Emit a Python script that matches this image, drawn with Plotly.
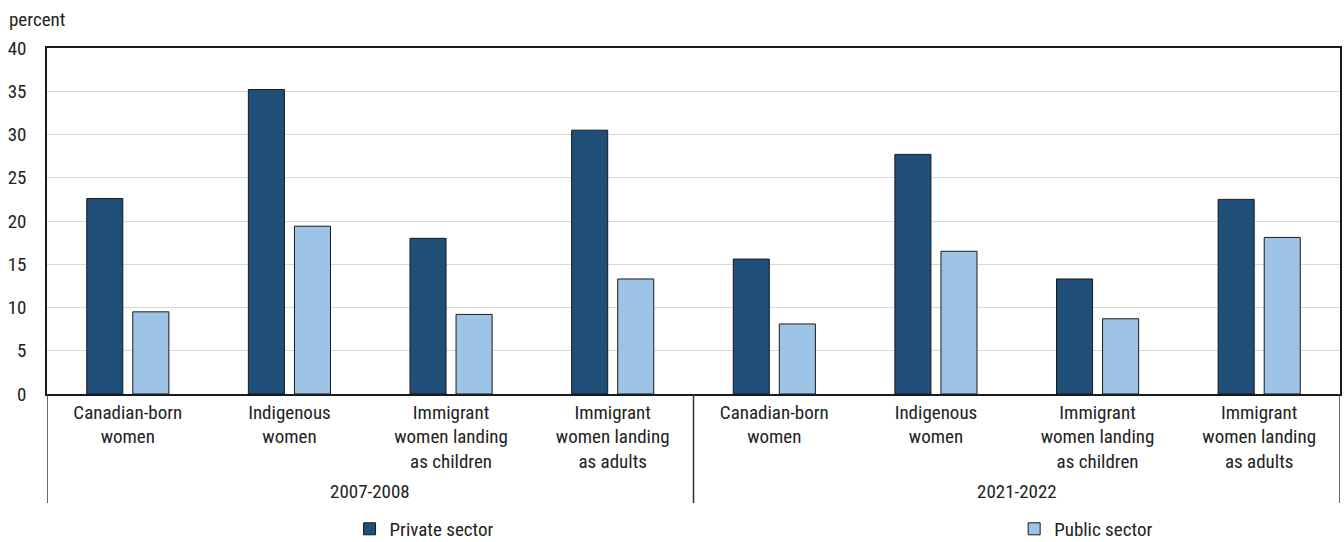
import plotly.graph_objects as go

# Share of women in low-paid work, by sector, group and period
periods = ["2007-2008", "2021-2022"]
groups = [
    "Canadian-born<br>women",
    "Indigenous<br>women",
    "Immigrant<br>women landing<br>as children",
    "Immigrant<br>women landing<br>as adults",
]
private_sector = [22.6, 35.2, 18.0, 30.5, 15.6, 27.7, 13.3, 22.5]
public_sector = [9.5, 19.4, 9.2, 13.3, 8.1, 16.5, 8.7, 18.1]

FONT = "Liberation Sans Narrow, Roboto Condensed, Arial Narrow, Roboto, sans-serif"
FS = 19
n_groups = len(groups)
xpos = list(range(len(periods) * n_groups))
ticktext = groups * len(periods)

fig = go.Figure()
fig.add_trace(go.Bar(
    x=xpos, y=private_sector, name="Private sector", legend="legend",
    marker=dict(color="#1F4E79", line=dict(color="#1a1a1a", width=1)),
))
fig.add_trace(go.Bar(
    x=xpos, y=public_sector, name="Public sector", legend="legend2",
    marker=dict(color="#9DC3E6", line=dict(color="#1a1a1a", width=1)),
))

# Period labels and the vertical separators under the category axis
shapes = []
annotations = []
for i, p in enumerate(periods):
    center = i * n_groups + (n_groups - 1) / 2
    annotations.append(dict(
        x=center, y=-0.283, xref="x", yref="paper", text=p, showarrow=False,
        font=dict(family=FONT, size=FS, color="#222"), yanchor="middle",
    ))
for b in range(len(periods) + 1):
    xb = b * n_groups - 0.5
    shapes.append(dict(
        type="line", xref="x", yref="paper", x0=xb, x1=xb, y0=0, y1=-0.315,
        line=dict(color="#333", width=1.5),
    ))

annotations.append(dict(
    x=0, y=1, xref="paper", yref="paper", xshift=-40, yshift=42,
    text="percent", showarrow=False, xanchor="left", yanchor="top",
    font=dict(family=FONT, size=FS, color="#222"),
))

legend_style = dict(
    orientation="h", yanchor="middle", y=-0.39, xanchor="left",
    font=dict(family=FONT, size=FS, color="#222"), itemwidth=30,
    bgcolor="rgba(0,0,0,0)",
)

fig.update_layout(
    width=1344, height=542,
    margin=dict(l=47, r=4, t=48, b=148, autoexpand=False),
    paper_bgcolor="white", plot_bgcolor="white",
    font=dict(family=FONT, size=FS, color="#222"),
    barmode="group", bargap=0.43, bargroupgap=0.217,
    shapes=shapes, annotations=annotations,
    legend=dict(x=0.234, **legend_style),
    legend2=dict(x=0.748, **legend_style),
    showlegend=True,
)
fig.update_xaxes(
    range=[-0.5, len(xpos) - 0.5], tickmode="array", tickvals=xpos,
    ticktext=ticktext, ticks="", showgrid=False, showline=True,
    linecolor="#1a1a1a", linewidth=1.5, mirror=True,
    tickfont=dict(family=FONT, size=FS, color="#222"),
)
fig.update_yaxes(
    range=[0, 40], dtick=5, showgrid=True, gridcolor="#D9D9D9", gridwidth=1,
    showline=True, linecolor="#1a1a1a", linewidth=1.5, mirror=True,
    ticks="", ticklabelstandoff=15, zeroline=False,
    tickfont=dict(family=FONT, size=FS, color="#222"),
)

fig.write_html("out.html")
